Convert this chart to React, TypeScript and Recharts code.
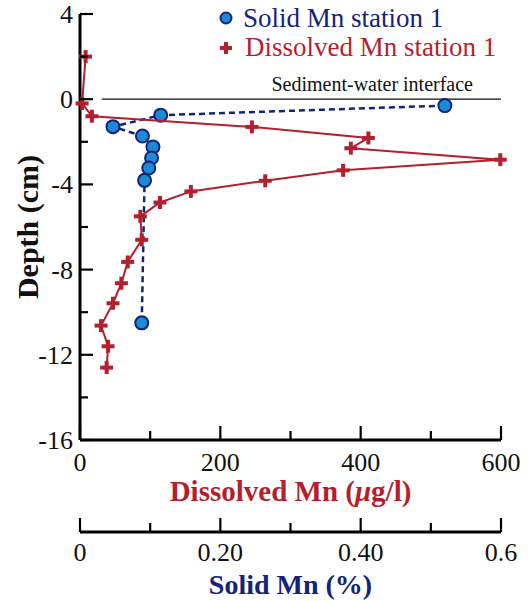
import React from "react";
import {
  ScatterChart,
  Scatter,
  XAxis,
  YAxis,
  ReferenceLine,
  Legend,
} from "recharts";

// ---- Data ----
const dissolvedDepth = [2.0, -0.2, -0.8, -1.3, -1.82, -2.3, -2.84, -3.34, -3.83, -4.33, -4.85, -5.5, -6.6, -7.64, -8.64, -9.58, -10.63, -11.6, -12.6];
const dissolvedMn = [8, 3, 17, 245, 411, 386, 599, 375, 264, 158, 114, 86, 88, 68, 59, 47, 30, 40, 38];

const solidDepth = [-0.3, -0.75, -1.29, -1.73, -2.24, -2.76, -3.23, -3.81, -10.5];
const solidMn = [0.52, 0.115, 0.047, 0.089, 0.104, 0.102, 0.098, 0.092, 0.088];

const dissolvedTicks = [0, 100, 200, 300, 400, 500, 600];
const dissolvedTickLabels = ["0", "", "200", "", "400", "", "600"];
const solidTicks = [0, 0.1, 0.2, 0.3, 0.4, 0.5, 0.6];
const solidTickLabels = ["0", "", "0.20", "", "0.40", "", "0.6"];
const depthTicks = [-16, -14, -12, -10, -8, -6, -4, -2, 0, 2, 4];
const depthTickLabels = ["-16", "", "-12", "", "-8", "", "-4", "", "0", "", "4"];

const interfaceStart = 31;
const interfaceEnd = 600;

const dissolvedData = dissolvedMn.map((v, i) => ({ x: v, y: dissolvedDepth[i] }));
const solidData = solidMn.map((v, i) => ({ x: v, y: solidDepth[i] }));

const FONT = "'Liberation Serif', 'Times New Roman', serif";
const RED = "#b41f2e";
const NAVY = "#14237a";
const BLUE_FILL = "#1b8bd6";

const makeXTick = (labels: string[], labelDy: number) => (props: any) => {
  const { x, y, index } = props;
  const label = labels[index];
  const major = label !== "";
  return (
    <g>
      <line x1={x} x2={x} y1={y} y2={y - (major ? 14 : 9)} stroke="#000" strokeWidth={2.2} />
      {major && (
        <text x={x} y={y + labelDy} textAnchor="middle" fontSize={26} fontFamily={FONT} fill="#111">
          {label}
        </text>
      )}
    </g>
  );
};

const YTick = (props: any) => {
  const { x, y, index } = props;
  const label = depthTickLabels[index];
  const major = label !== "";
  return (
    <g>
      <line x1={x} x2={x + (major ? 13 : 8)} y1={y} y2={y} stroke="#000" strokeWidth={2.2} />
      {major && (
        <text x={x - 7} y={y + 9} textAnchor="end" fontSize={26} fontFamily={FONT} fill="#111">
          {label}
        </text>
      )}
    </g>
  );
};

const PlusShape = (props: any) => {
  const { cx, cy } = props;
  if (cx == null || cy == null) return null;
  return (
    <g>
      <line x1={cx - 6.5} x2={cx + 6.5} y1={cy} y2={cy} stroke={RED} strokeWidth={4} />
      <line x1={cx} x2={cx} y1={cy - 6.5} y2={cy + 6.5} stroke={RED} strokeWidth={4} />
    </g>
  );
};

const CircleShape = (props: any) => {
  const { cx, cy } = props;
  if (cx == null || cy == null) return null;
  return <circle cx={cx} cy={cy} r={6.5} fill={BLUE_FILL} stroke={NAVY} strokeWidth={2} />;
};

const LegendContent = () => (
  <svg width={310} height={66} style={{ display: "block" }}>
    <circle cx={16} cy={18} r={5.5} fill={BLUE_FILL} stroke={NAVY} strokeWidth={2} />
    <text x={33} y={27} fontSize={27} fontFamily={FONT} fill={NAVY}>
      Solid Mn station 1
    </text>
    <line x1={10} x2={22} y1={48} y2={48} stroke={RED} strokeWidth={4} />
    <line x1={16} x2={16} y1={42} y2={54} stroke={RED} strokeWidth={4} />
    <text x={35} y={56} fontSize={27} fontFamily={FONT} fill={RED}>
      Dissolved Mn station 1
    </text>
  </svg>
);

const InterfaceLabel = (props: any) => {
  const vb = props.viewBox || {};
  const x = (vb.x ?? 0) + (vb.width ?? 0) - 28;
  const y = (vb.y ?? 0) - 8;
  return (
    <text x={x} y={y} textAnchor="end" fontSize={20} fontFamily={FONT} fill="#111">
      Sediment-water interface
    </text>
  );
};

const DissolvedTitle = (props: any) => {
  const vb = props.viewBox || {};
  const cx = (vb.x ?? 0) + (vb.width ?? 0) / 2;
  return (
    <text x={cx} y={(vb.y ?? 0) + 61} textAnchor="middle" fontSize={29} fontWeight="bold" fontFamily={FONT} fill={RED}>
      Dissolved Mn (<tspan fontStyle="italic">μ</tspan>g/l)
    </text>
  );
};

const SolidTitle = (props: any) => {
  const vb = props.viewBox || {};
  const cx = (vb.x ?? 0) + (vb.width ?? 0) / 2;
  return (
    <text x={cx} y={(vb.y ?? 0) + 62} textAnchor="middle" fontSize={28} fontWeight="bold" fontFamily={FONT} fill={NAVY}>
      Solid Mn (%)
    </text>
  );
};

const DepthTitle = (props: any) => {
  const vb = props.viewBox || {};
  const cy = (vb.y ?? 0) + (vb.height ?? 0) / 2;
  const cx = 38;
  return (
    <text
      x={cx}
      y={cy}
      textAnchor="middle"
      fontSize={30}
      fontWeight="bold"
      fontFamily={FONT}
      fill="#111"
      transform={`rotate(-90, ${cx}, ${cy})`}
    >
      Depth (cm)
    </text>
  );
};

export default function App() {
  return (
    <div style={{ position: "absolute", left: 0, top: 0, background: "#fff" }}>
      <ScatterChart width={528} height={601} margin={{ top: 14, right: 27, left: 0, bottom: 0 }}>
        <XAxis
          xAxisId="d"
          type="number"
          dataKey="x"
          domain={[0, 600]}
          ticks={dissolvedTicks}
          interval={0}
          orientation="bottom"
          height={92}
          axisLine={{ stroke: "#000", strokeWidth: 3 }}
          tickLine={false}
          tickSize={0}
          tickMargin={0}
          tick={makeXTick(dissolvedTickLabels, 31)}
          label={<DissolvedTitle />}
        />
        <XAxis
          xAxisId="s"
          type="number"
          dataKey="x"
          domain={[0, 0.6]}
          ticks={solidTicks}
          interval={0}
          orientation="bottom"
          height={69}
          axisLine={{ stroke: "#000", strokeWidth: 3 }}
          tickLine={false}
          tickSize={0}
          tickMargin={0}
          tick={makeXTick(solidTickLabels, 29)}
          label={<SolidTitle />}
        />
        <YAxis
          type="number"
          dataKey="y"
          domain={[-16, 4]}
          ticks={depthTicks}
          interval={0}
          width={80}
          axisLine={{ stroke: "#000", strokeWidth: 3 }}
          tickLine={false}
          tickSize={0}
          tickMargin={0}
          tick={<YTick />}
          label={<DepthTitle />}
        />
        <ReferenceLine
          xAxisId="d"
          segment={[
            { x: interfaceStart, y: 0 },
            { x: interfaceEnd, y: 0 },
          ]}
          stroke="#111"
          strokeWidth={1.2}
          label={<InterfaceLabel />}
        />
        <Scatter
          xAxisId="s"
          data={solidData}
          line={{ stroke: NAVY, strokeWidth: 2.5, strokeDasharray: "6 4" }}
          shape={<CircleShape />}
          isAnimationActive={false}
        />
        <Scatter
          xAxisId="d"
          data={dissolvedData}
          line={{ stroke: RED, strokeWidth: 2 }}
          shape={<PlusShape />}
          isAnimationActive={false}
        />
        <Legend
          layout="horizontal"
          verticalAlign="middle"
          align="center"
          content={<LegendContent />}
          wrapperStyle={{ position: "absolute", top: 0, left: 210, width: 310, height: 66 }}
        />
      </ScatterChart>
    </div>
  );
}
